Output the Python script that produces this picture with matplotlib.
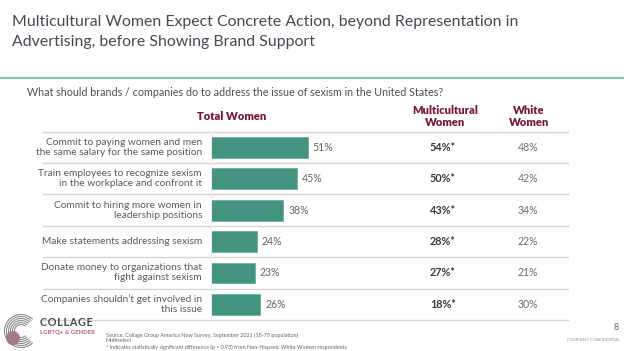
"""Slide chart: what brands should do about sexism, by women segment"""

import matplotlib

matplotlib.use("Agg")
from matplotlib import pyplot as plt
from matplotlib import transforms
from matplotlib.lines import Line2D
from matplotlib.patches import Arc, Circle

plt.rcParams["font.family"] = ["Lato", "DejaVu Sans"]

# data
actions = [
    "Commit to paying women and men\nthe same salary for the same position",
    "Train employees to recognize sexism\nin the workplace and confront it",
    "Commit to hiring more women in\nleadership positions",
    "Make statements addressing sexism",
    "Donate money to organizations that\nfight against sexism",
    "Companies shouldn\u2019t get involved in\nthis issue",
]
total_women = [51, 45, 38, 24, 23, 26]
multicultural_women = [54, 50, 43, 28, 27, 18]
white_women = [48, 42, 34, 22, 21, 30]
significant = [True, True, True, True, True, True]

TITLE = ("Multicultural Women Expect Concrete Action, beyond Representation in\n"
         "Advertising, before Showing Brand Support")
QUESTION = "What should brands / companies do to address the issue of sexism in the United States?"

BAR_COLOR = "#42937f"
HEAD_COLOR = "#7a1838"
GRID_COLOR = "#d4d4d4"

W, H = 624, 351


def fx(px):
    return px / W


def fy(py):
    return 1 - py / H


def main():
    fig = plt.figure(figsize=(W / 100, H / 100), dpi=100)
    fig.patch.set_facecolor("white")

    # title block
    fig.text(fx(12), fy(32), TITLE, fontsize=11.4, color="#454a52",
             ha="left", va="center", linespacing=1.6)
    fig.add_artist(Line2D([0, 1], [fy(77.5), fy(77.5)], color="#8cc3ad", lw=1.6))
    fig.text(fx(27), fy(93), QUESTION, fontsize=7.75, color="#505050",
             ha="left", va="center")

    # bar table
    top, bottom, left, right = 131.7, 320, 211, 568
    px_per_pct = 1.9
    ax = fig.add_axes([fx(left), fy(bottom), fx(right - left), (bottom - top) / H])
    n = len(actions)
    rows = list(range(n))
    ax.barh(rows, total_women, height=0.66, color=BAR_COLOR,
            edgecolor="#6fb09d", linewidth=0.6)
    ax.set_xlim(0, (right - left) / px_per_pct)
    ax.set_ylim(n - 0.5, -0.5)
    ax.axis("off")

    for b in range(n + 1):
        ax.axhline(b - 0.5, xmin=(43 - left) / (right - left), xmax=1,
                   color=GRID_COLOR, lw=1.0, clip_on=False)
    ax.axvline(0, color="#ececec", lw=0.8)

    mixed = transforms.blended_transform_factory(fig.transFigure, ax.transData)
    for i, (label, tot, mc, wh, sig) in enumerate(
        zip(actions, total_women, multicultural_women, white_women, significant)
    ):
        ax.text(fx(202), i, label, transform=mixed, ha="right", va="center",
                fontsize=7.3, color="#5a5a5a", linespacing=1.15)
        ax.text(tot + 2.6, i, f"{tot}%", ha="left", va="center",
                fontsize=7.6, color="#666666")
        ax.text(fx(443), i, f"{mc}%" + ("*" if sig else ""), transform=mixed,
                ha="center", va="center", fontsize=7.8, color="#3a3a3a",
                fontweight="bold")
        ax.text(fx(528), i, f"{wh}%", transform=mixed, ha="center", va="center",
                fontsize=7.6, color="#707070")

    # column headers
    fig.text(fx(232), fy(116), "Total Women", fontsize=8.0, color=HEAD_COLOR,
             fontweight="heavy", ha="center", va="center")
    fig.text(fx(445), fy(116.5), "Multicultural\nWomen", fontsize=8.0,
             color=HEAD_COLOR, fontweight="heavy", ha="center", va="center",
             linespacing=1.05)
    fig.text(fx(529), fy(116.5), "White\nWomen", fontsize=8.0, color=HEAD_COLOR,
             fontweight="heavy", ha="center", va="center", linespacing=1.05)

    # footer
    fig.text(fx(106), fy(341), "Source: Collage Group America Now Survey, "
             "September 2021 (18-75 population)\nMultiselect\n"
             "* Indicates statistically significant difference (p > 0.95) "
             "from Non-Hispanic White Women respondents",
             fontsize=3.9, color="#666666", ha="left", va="center",
             linespacing=1.15)
    fig.text(fx(616), fy(327), "8", fontsize=6.5, color="#666666",
             ha="center", va="center")
    fig.text(fx(620), fy(340), "COMPANY CONFIDENTIAL", fontsize=3.1,
             color="#999999", ha="right", va="center")

    # logo
    logo = fig.add_axes([0, fy(351), fx(45), 45 / H])
    logo.set_xlim(0, 45)
    logo.set_ylim(45, 0)
    logo.set_aspect("equal")
    logo.axis("off")
    logo.add_patch(Circle((13, 32), 7, color="#b8577d", alpha=0.8, lw=0))
    for r in [16.5, 14.5, 12.5, 10.5, 8.5, 6.5]:
        logo.add_patch(Arc((21, 25), 2 * r, 2 * r, theta1=45, theta2=315,
                           color="#7d7d7d", lw=0.7))
    hair = "\u200a"
    fig.text(fx(40), fy(322), hair.join("COLLAGE"), fontsize=7.8, color="#4a4a4a",
             fontweight="bold", ha="left", va="center")
    fig.text(fx(40), fy(332.5), "LGBTQ+ & GENDER", fontsize=4.3, color="#c0587a",
             fontweight="bold", ha="left", va="center")

    fig.savefig("out.png", dpi=100)


if __name__ == "__main__":
    main()
